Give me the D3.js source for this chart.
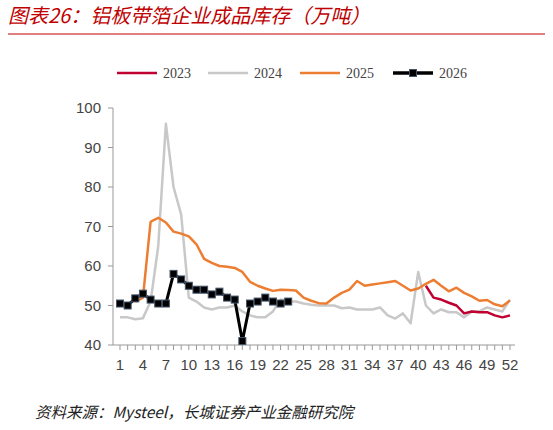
<!DOCTYPE html><html><head><meta charset="utf-8"><script src="https://cdn.jsdelivr.net/npm/d3@7"></script>
<style>body{margin:0;background:#fff}</style></head><body><svg id="c" width="553" height="430"></svg><script>
const weeks=d3.range(1,53);
const yTicks=[40,50,60,70,80,90,100];
const xLabels=d3.range(1,53,3);
const s2023=[55,52,51.5,50.7,50,48,48.5,48.3,48.3,47.5,47,47.5]; // weeks 41-52
const s2024=[47,47,46.5,46.8,51,65,96,80,73,52,51,49.5,49,49.5,49.5,50,48.5,47.5,47,47,48.5,51.5,51,51,50.5,50.2,50,50,50,49.3,49.5,49,49,49,49.5,47.5,46.7,48,45.5,58.5,50,48,49,48.3,48.3,47,48.5,48.5,49.5,49,48.5,51.5];
const s2025=[51,52,71.2,72.2,71,68.7,68.2,67.5,65.5,61.8,60.8,60,59.8,59.5,58.5,56,55,54.3,53.7,54,53.9,53.8,52,51.2,50.6,50.5,52,53.2,54,56.2,55,55.3,55.6,55.9,56.2,55,53.8,54.3,55.5,56.5,55,53.6,54.5,53.2,52.3,51.2,51.4,50.3,49.8,51.3]; // weeks 3-52
const s2026=[50.5,50,51.8,53,51.5,50.5,50.5,58,56.6,55,54,54,52.8,53.5,52,51.5,41,50.5,51,52,51,50.5,51]; // weeks 1-23
const svg=d3.select("#c");
const x=d3.scaleLinear().domain([1,52]).range([120,510]);
const y=d3.scaleLinear().domain([40,100]).range([345,108]);
svg.append("text").attr("x",8).attr("y",23).attr("fill","#c00000").attr("font-style","italic").attr("font-size",20).attr("font-family","Noto Sans CJK SC").text("图表26：铝板带箔企业成品库存（万吨）");
svg.append("line").attr("x1",8).attr("x2",545).attr("y1",34).attr("y2",34).attr("stroke","#c00000").attr("stroke-width",1);
const g=svg.append("g");
g.append("line").attr("x1",113).attr("x2",113).attr("y1",108).attr("y2",345).attr("stroke","#999");
g.append("line").attr("x1",113).attr("x2",515).attr("y1",345).attr("y2",345).attr("stroke","#999");
yTicks.forEach(t=>{g.append("line").attr("x1",108).attr("x2",113).attr("y1",y(t)).attr("y2",y(t)).attr("stroke","#999");
 g.append("text").attr("x",101).attr("y",y(t)+5).attr("text-anchor","end").attr("font-size",15).attr("font-family","Liberation Sans").attr("fill","#444").text(t);});
weeks.forEach(w=>g.append("line").attr("x1",x(w)).attr("x2",x(w)).attr("y1",345).attr("y2",350).attr("stroke","#999"));
xLabels.forEach(w=>g.append("text").attr("x",x(w)).attr("y",370).attr("text-anchor","middle").attr("font-size",15).attr("font-family","Liberation Sans").attr("fill","#444").text(w));
const line=d3.line().x(d=>x(d[0])).y(d=>y(d[1]));
function draw(data,start,color,w){g.append("path").datum(data.map((v,i)=>[i+start,v])).attr("d",line).attr("fill","none").attr("stroke",color).attr("stroke-width",w).attr("stroke-linejoin","round");}
draw(s2024,1,"#c8c8c8",2.5);
draw(s2025,3,"#ed7d31",2.5);
draw(s2023,41,"#c00030",2.5);
draw(s2026,1,"#000",3);
s2026.forEach((v,i)=>g.append("rect").attr("x",x(i+1)-3.5).attr("y",y(v)-3.5).attr("width",7).attr("height",7).attr("fill","#000").attr("stroke","#44546a").attr("stroke-width",1));
const leg=[["2023","#c00030",117],["2024","#c8c8c8",208],["2025","#ed7d31",300],["2026","#000",393]];
leg.forEach(([t,c,lx])=>{svg.append("line").attr("x1",lx).attr("x2",lx+40).attr("y1",73).attr("y2",73).attr("stroke",c).attr("stroke-width",t=="2026"?3.5:2.5);
 if(t=="2026")svg.append("rect").attr("x",lx+16.5).attr("y",69.5).attr("width",7).attr("height",7).attr("fill","#000").attr("stroke","#44546a");
 svg.append("text").attr("x",lx+46).attr("y",78).attr("font-size",14).attr("font-family","Liberation Serif").attr("fill","#444").text(t);});
svg.append("text").attr("x",35).attr("y",418).attr("font-size",15.5).attr("font-style","italic").attr("font-family","Noto Sans CJK SC").attr("fill","#222").text("资料来源：Mysteel，长城证券产业金融研究院");
</script></body></html>
